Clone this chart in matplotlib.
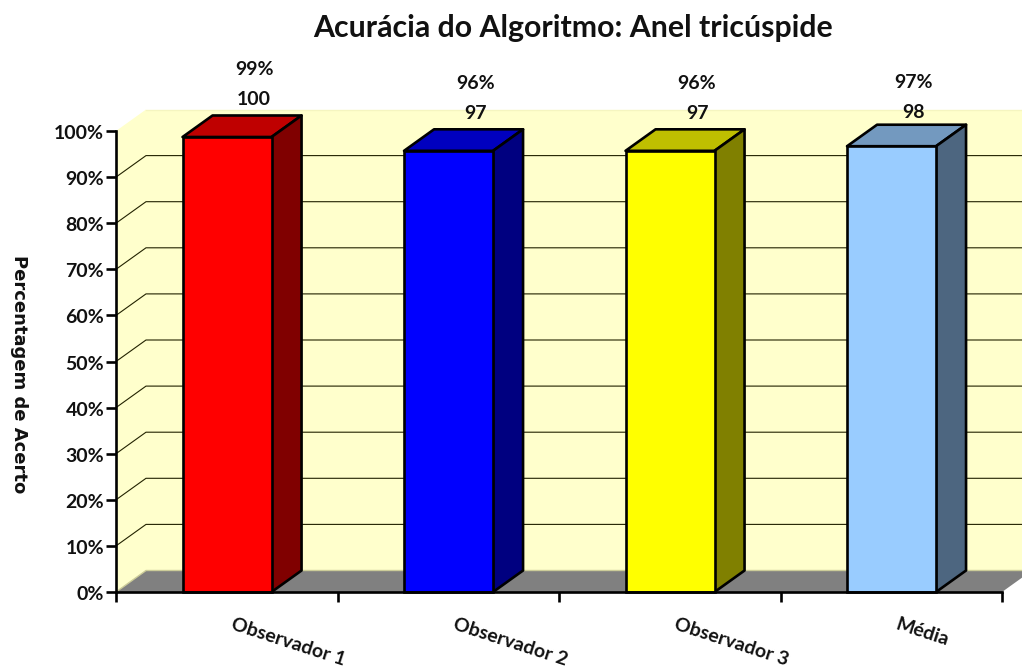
import matplotlib
matplotlib.use("Agg")
import matplotlib.pyplot as plt
from matplotlib.transforms import ScaledTranslation

plt.rcParams['font.family'] = ['Lato', 'DejaVu Sans']

categories = ["Observador 1", "Observador 2", "Observador 3", "Média"]
values = [98.7, 95.7, 95.7, 96.7]
pct_labels = ["99%", "96%", "96%", "97%"]
count_labels = ["100", "97", "97", "98"]
yticks = [0, 10, 20, 30, 40, 50, 60, 70, 80, 90, 100]

front_colors = ["#ff0000", "#0000ff", "#ffff00", "#99ccff"]
top_colors = ["#bf0000", "#0000bf", "#bfbf00", "#7399bf"]
side_colors = ["#800000", "#000080", "#808000", "#4d6680"]

fig = plt.figure(figsize=(10.22, 6.71), dpi=100)
ax = fig.add_axes([116 / 1022, (671 - 592) / 671, 886 / 1022, 461 / 671])
ax.set_xlim(0, 4)
ax.set_ylim(0, 100)

# depth of the fake 3d box, in data units
px = 1 / 221.5
py = 1 / 4.61
dx = 30 * px
dy = 21.5 * py
bar_w = 89 * px

# walls and floor
ax.fill([0, dx, dx, 0], [0, dy, 100 + dy, 100], color="#ffffcc", lw=0, clip_on=False, zorder=1)
ax.fill([dx, 4 + dx, 4 + dx, dx], [dy, dy, 100 + dy, 100 + dy], color="#ffffcc", lw=0, clip_on=False, zorder=1)
ax.fill([0, 4, 4 + dx, dx], [0, 0, dy, dy], color="#808080", lw=0, clip_on=False, zorder=2)

for t in yticks[1:-1]:
    ax.plot([0, dx, 4 + dx], [t, t + dy, t + dy], color="#222200", lw=0.8, clip_on=False, zorder=2)
ax.plot([0, dx, 4 + dx], [0, dy, dy], color="#cccc99", lw=1, clip_on=False, zorder=2)
ax.plot([dx, 4 + dx], [100 + dy, 100 + dy], color="#f5f5c0", lw=1, clip_on=False, zorder=2)

for i, v in enumerate(values):
    c = i + 0.5 + 0.3 * px
    l = c - bar_w / 2
    r = c + bar_w / 2
    ax.bar(c, v, width=bar_w, color=front_colors[i], edgecolor="black", linewidth=1.9, zorder=5, clip_on=False)
    ax.fill([l, r, r + dx, l + dx], [v, v, v + dy, v + dy], facecolor=top_colors[i],
            edgecolor="black", linewidth=1.9, joinstyle="round", clip_on=False, zorder=4)
    ax.fill([r, r + dx, r + dx, r], [0, dy, v + dy, v], facecolor=side_colors[i],
            edgecolor="black", linewidth=1.9, joinstyle="round", clip_on=False, zorder=4)
    # the last label sits a bit closer to its bar in the original
    lab_x = c + (22 if i == 3 else 27) * px
    lab_y = v + dy - (3.5 * py if i == 3 else 0)
    ax.text(lab_x, lab_y + 3.4, count_labels[i], ha="center", va="center",
            fontsize=14, fontweight="bold", color="#111111", zorder=6)
    ax.text(lab_x, lab_y + 9.9, pct_labels[i], ha="center", va="center",
            fontsize=14, fontweight="bold", color="#111111", zorder=6)

ax.set_facecolor("none")
for s in ["top", "right"]:
    ax.spines[s].set_visible(False)
for s in ["left", "bottom"]:
    ax.spines[s].set_linewidth(1.9)
    ax.spines[s].set_zorder(7)

ax.set_yticks(yticks)
ax.set_yticklabels([f"{t}%" for t in yticks], fontsize=14, fontweight="bold", color="#111111")
ax.set_xticks([0, 1, 2, 3, 4])
ax.set_xticklabels([])
ax.tick_params(axis="both", length=7.5, width=1.9, pad=1, direction="out")
for lab in ax.get_yticklabels():
    lab.set_transform(lab.get_transform() + ScaledTranslation(0, -1 / 100, fig.dpi_scale_trans))

for i, name in enumerate(categories):
    ax.text(i + 0.5 + 5 * px, -6.8, name, rotation=-18, rotation_mode="anchor", ha="left", va="center",
            fontsize=14, fontweight="bold", color="#111111")

fig.text(573 / 1022, 1 - 28 / 671, "Acurácia do Algoritmo: Anel tricúspide", ha="center", va="center",
         fontsize=21.8, fontweight="bold", color="#111111")
fig.text(19 / 1022, 1 - 374 / 671, "Percentagem de Acerto", rotation=270, ha="center", va="center",
         fontsize=13, fontweight="bold", family="DejaVu Sans", color="#111111")

fig.savefig("out.png", dpi=100)
